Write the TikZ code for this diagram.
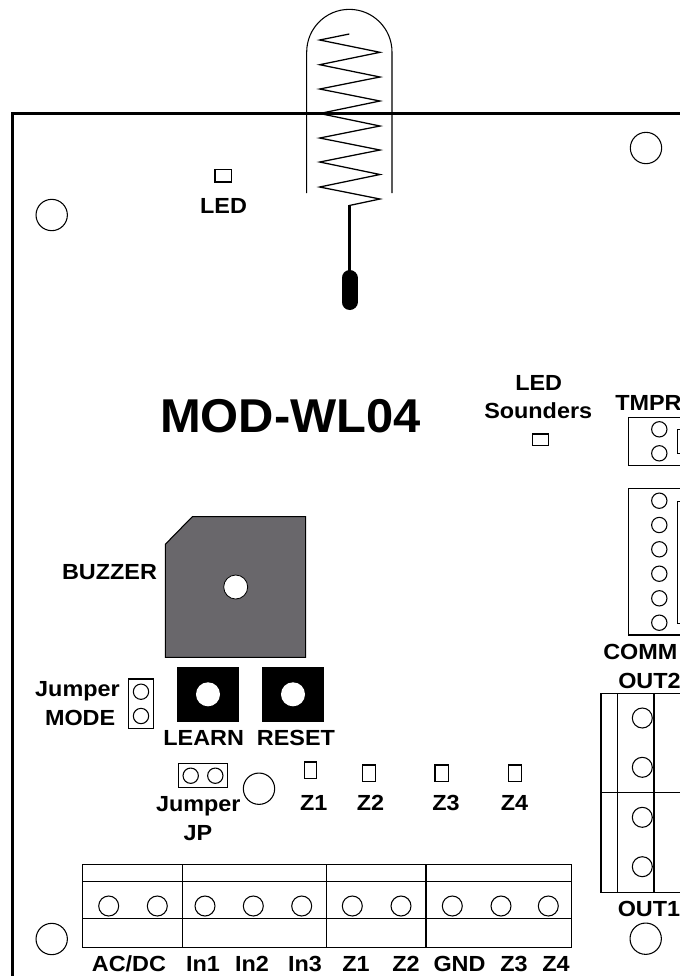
\documentclass[tikz,border=0pt]{standalone}
\usepackage{fontspec}
\setmainfont{Liberation Sans}
\newfontface\lblfont{Liberation Sans Bold}[FakeStretch=1.07]
\newfontface\titlefont{Liberation Sans Bold}[FakeStretch=1.03]
\definecolor{buzz}{HTML}{69676B}
\tikzset{
  x=0.75pt,y=-0.75pt,
  line/.style={draw=black,line width=1pt},
  thin line/.style={draw=black,line width=0.8pt},
  lbl/.style={font=\lblfont\fontsize{16.4}{16.4}\selectfont,inner sep=0pt,text=black,anchor=base},
  title/.style={font=\titlefont\fontsize{35.6}{35.6}\selectfont,inner sep=0pt,anchor=base},
  pin/.style={circle,thin line,fill=white,inner sep=0pt},
  big/.style={pin,minimum size=23.5pt},
  mid/.style={pin,minimum size=15pt},
  small/.style={pin,minimum size=11.5pt},
  hole/.style={circle,fill=white,draw=black,line width=0.6pt,minimum size=18pt,inner sep=0pt},
}
\begin{document}
\begin{tikzpicture}
\useasboundingbox (0,0) rectangle (680,976);
\clip (0,0) rectangle (680,976);
% antenna
\draw[thin line] (306.7,193) -- (306.7,52) arc[start angle=180,end angle=0,radius=42.65*0.75pt] -- (392,193);
\draw[thin line,line width=0.95pt,line join=miter] (349.3,34) -- (319.7,40) -- (380,52.3) -- (319.7,64.7) -- (380,77) -- (319.7,89) -- (380,101) -- (319.7,113.5) -- (380,126) -- (319.7,138) -- (380,150) -- (319.7,162) -- (380,174.5) -- (319.7,187) -- (380,199) -- (349.3,205.5);
\draw[line width=2.7pt] (349.3,205) -- (349.3,275);
\draw[line width=12pt,line cap=round] (349.5,278) -- (349.5,302);
% board
\draw[draw=black,line width=2pt] (12.5,976) -- (12.5,113.3) -- (680,113.3);
% mounting holes
\node[big] (h1) at (646,148) {};
\node[big] (h2) at (51.7,215) {};
\node[big] (h3) at (259,788.7) {};
\node[big] (h4) at (51.7,939) {};
\node[big] (h5) at (645.7,938.7) {};
% top LED
\draw[thin line] (215,169.3) rectangle (231.7,182);
\node[lbl] (ledt) at (223.5,213.3) {LED};
\node[title] (mod) at (290.5,432.7) {MOD-WL04};
\node[lbl] (leds1) at (538.7,390) {LED};
\node[lbl] (leds2) at (538.2,418.3) {Sounders};
\draw[thin line] (532.3,434) rectangle (548.7,445.7);
% TMPR
\node[lbl,anchor=base west] (tmpr) at (615,410) {TMPR};
\draw[line] (680,417.3) -- (628.3,417.3) -- (628.3,465.7) -- (680,465.7);
\draw[thin line] (681,429.3) -- (677.3,429.3) -- (677.3,453.3) -- (681,453.3);
\node[small] at (659.3,429.3) {};
\node[small] at (659.3,453.3) {};
% COMM
\draw[line] (680,488.3) -- (628.3,488.3) -- (628.3,635) -- (680,635);
\draw[thin line] (681,501.7) -- (677.3,501.7) -- (677.3,623.3) -- (681,623.3);
\foreach \y in {500.7,525,549.3,573.7,598.3,622.7} \node[small] at (659.3,\y) {};
\node[lbl,anchor=base west] (comm) at (603,659) {COMM};
\node[lbl,anchor=base west] (out2) at (618,688) {OUT2};
% OUT
\draw[line] (680,693.3) -- (601,693.3) -- (601,892.3) -- (680,892.3);
\draw[line] (601,792.7) -- (680,792.7);
\draw[thin line] (617.7,693.3) -- (617.7,892.3);
\draw[thin line] (654,693.3) -- (654,892.3);
\foreach \y in {718,767.3,817.3,866.7} \node[mid] at (642.3,\y) {};
\node[lbl,anchor=base west] (out1) at (617.5,916) {OUT1};
% buzzer
\draw[draw=black,line width=0.8pt,fill=buzz] (165.3,544.3) -- (192.3,516.7) -- (305.7,516.7) -- (305.7,657.3) -- (165.3,657.3) -- cycle;
\node[hole] (bh) at (235.7,587) {};
\node[lbl] (buz) at (109.5,579) {BUZZER};
% buttons
\fill[black] (177,666.7) rectangle (239,722);
\fill[black] (262,666.7) rectangle (324,722);
\node[hole,draw=none] (lh) at (208,694.3) {};
\node[hole,draw=none] (rh) at (293,694.3) {};
\node[lbl] (learn) at (203.7,745) {LEARN};
\node[lbl] (reset) at (296,745) {RESET};
% jumpers
\draw[thin line] (128.7,679) rectangle (153.3,728.3);
\node[small] at (141,691.7) {};
\node[small] at (141,716) {};
\node[lbl,anchor=base east] (j1) at (120,696.5) {Jumper};
\node[lbl,anchor=base east] (j2) at (115.5,725) {MODE};
\draw[thin line] (178.7,763.3) rectangle (227.7,787.7);
\node[small] at (190.7,775.7) {};
\node[small] at (215.3,775.7) {};
\node[lbl] (j3) at (198.3,811.5) {Jumper};
\node[lbl] (j4) at (198,840) {JP};
% Z leds
\draw[thin line] (304.3,762) rectangle (316.7,778.3);
\draw[thin line] (362.7,765) rectangle (375.7,781.7);
\draw[thin line] (435,765) rectangle (448.3,781.7);
\draw[thin line] (508.3,765) rectangle (521.7,781.7);
\node[lbl] at (313.7,810) {Z1};
\node[lbl] at (370.5,810) {Z2};
\node[lbl] at (446,810) {Z3};
\node[lbl] at (514.5,810) {Z4};
% bottom terminal
\draw[line] (82.3,864.7) rectangle (571.7,947.7);
\draw[thin line] (82.3,881.7) -- (571.7,881.7);
\draw[thin line] (82.3,918.3) -- (571.7,918.3);
\foreach \x in {182.3,326.3,426} \draw[line] (\x,864.7) -- (\x,947.7);
\foreach \x in {108.7,157.3,205,253.3,301.7,352.3,401,452.3,501,548.3} \node[mid] at (\x,906) {};
\foreach \x/\t in {129/AC\slash DC,203/In1,252/In2,305/In3,356/Z1,406/Z2,459.5/GND,514/Z3,556/Z4}
  \node[lbl] at (\x,971.7) {\t};
\end{tikzpicture}
\end{document}
